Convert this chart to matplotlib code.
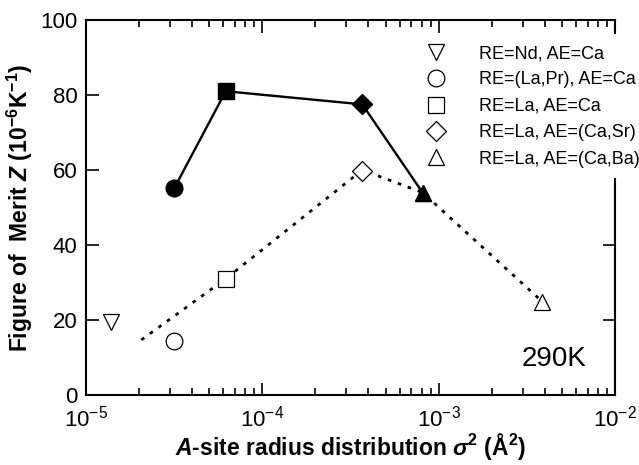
import numpy as np
import matplotlib
matplotlib.use('Agg')
import matplotlib.pyplot as plt
from matplotlib.lines import Line2D

plt.rcParams['font.family'] = ['Liberation Sans', 'DejaVu Sans']
plt.rcParams['mathtext.fontset'] = 'custom'
plt.rcParams['mathtext.rm'] = 'Liberation Sans'
plt.rcParams['mathtext.it'] = 'Liberation Sans:italic'
plt.rcParams['mathtext.bf'] = 'Liberation Sans:bold'
plt.rcParams['mathtext.bfit'] = 'Liberation Sans:bold:italic'

# filled symbols (upper, solid line)
x_fill = [3.17e-5, 6.2e-5, 3.69e-4, 8.1e-4]
z_fill = [55.2, 81.0, 77.5, 54.0]
m_fill = ['o', 's', 'D', '^']

# open symbols
x_open = [1.39e-5, 3.17e-5, 6.2e-5, 3.69e-4, 8.1e-4, 3.87e-3]
z_open = [19.6, 14.4, 31.0, 59.8, 54.0, 24.9]
m_open = ['v', 'o', 's', 'D', '^', '^']

# dotted guide line
x_trend = [2.06e-5, 6.2e-5, 3.69e-4, 8.1e-4, 3.87e-3]
z_trend = [14.7, 31.0, 60.0, 54.0, 24.9]

legend_markers = ['v', 'o', 's', 'D', '^']
legend_labels = ['RE=Nd, AE=Ca', 'RE=(La,Pr), AE=Ca', 'RE=La, AE=Ca',
                 'RE=La, AE=(Ca,Sr)', 'RE=La, AE=(Ca,Ba)']

fig = plt.figure(figsize=(6.39, 4.65), dpi=100)
ax = fig.add_axes([0.1346, 0.1505, 0.8278, 0.8065])

ax.plot(x_trend, z_trend, color='black', lw=2.0, linestyle=(0, (1.3, 2.5)), zorder=2)
ax.plot(x_fill, z_fill, color='black', lw=1.7, zorder=2)

msz = {'o': 12, 's': 12, 'D': 10.5, '^': 12, 'v': 12}
for x, z, m in zip(x_fill, z_fill, m_fill):
    ax.plot(x, z, marker=m, ms=msz[m], color='black', mfc='black', mec='black', zorder=3)
for x, z, m in zip(x_open, z_open, m_open):
    ax.plot(x, z, marker=m, ms=msz[m], mfc='white' if m != '^' or x > 1e-3 else 'none',
            mec='black', mew=0.9, ls='none', zorder=4)

ax.set_xscale('log')
ax.set_xlim(1e-5, 1e-2)
ax.set_ylim(0, 100)
ax.set_yticks([0, 20, 40, 60, 80, 100])
ax.set_xticks([1e-5, 1e-4, 1e-3, 1e-2])
ax.set_xticklabels([r'$10^{-5}$', r'$10^{-4}$', r'$10^{-3}$', r'$10^{-2}$'])
ax.minorticks_on()
ax.yaxis.set_minor_locator(matplotlib.ticker.NullLocator())

ax.tick_params(which='both', direction='in', top=True, right=True, labelsize=16, width=1.2)
ax.tick_params(which='major', length=9)
ax.tick_params(which='minor', length=5)
ax.tick_params(axis='y', pad=6)
ax.tick_params(axis='x', pad=7.5)
for s in ax.spines.values():
    s.set_linewidth(1.5)

ax.set_xlabel(r'$\mathbfit{A}$-site radius distribution $\mathbfit{\sigma}^{\mathbf{2}}$ (Å$^{\mathbf{2}}$)',
              fontsize=16.5, fontweight='bold', labelpad=0)
ax.set_ylabel(r'Figure of  Merit $\mathbfit{Z}$ (10$^{\mathbf{-6}}$K$^{\mathbf{-1}}$)',
              fontsize=16.5, fontweight='bold', labelpad=4)

ax.text(0.885, 0.095, '290K', transform=ax.transAxes, fontsize=20, ha='center', va='center')

handles = [Line2D([], [], marker=m, ls='none', ms=msz[m], mfc='white', mec='black', mew=0.9)
           for m in legend_markers]
leg = ax.legend(handles, legend_labels, loc='upper left', bbox_to_anchor=(0.6216, 0.962),
                fontsize=13, frameon=True, facecolor='white', edgecolor='none', framealpha=1,
                fancybox=False, labelspacing=0.52, handletextpad=1.78, borderpad=0.6,
                borderaxespad=0, handlelength=1.2)
leg.set_zorder(10)

fig.savefig('out.png', dpi=100)
